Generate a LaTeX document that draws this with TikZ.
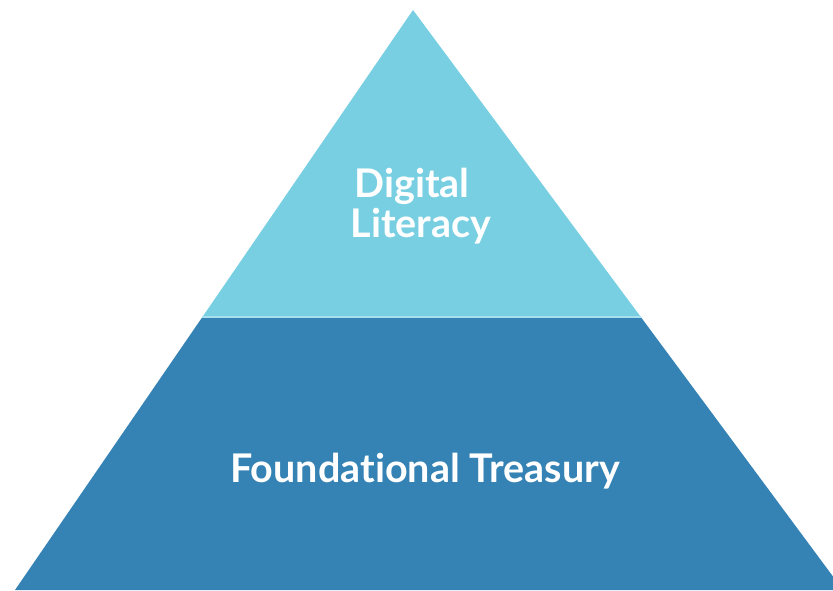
\documentclass[tikz,border=0pt]{standalone}
\usepackage{fontspec}
\setmainfont[Ligatures=NoCommon]{Lato}
\definecolor{toplight}{HTML}{78CFE2}
\definecolor{basedark}{HTML}{3582B5}
\definecolor{sepline}{HTML}{A6E0EE}
\tikzset{
  layertext/.style={text=white, font=\bfseries\fontsize{39.5}{42}\selectfont, inner sep=0pt, align=center}
}
\begin{document}
\begin{tikzpicture}[x=1pt,y=-1pt]
\useasboundingbox (0,0) rectangle (833,590);
\clip (0,0) rectangle (833,590);
\coordinate (apex) at (413,10);
\coordinate (ml) at (202.4,317);
\coordinate (mr) at (640.8,317);
\coordinate (bl) at (15,590);
\coordinate (br) at (843,590);
\fill[basedark] (ml) -- (mr) -- (br) -- (bl) -- cycle;
\fill[toplight] (apex) -- (mr) -- (ml) -- cycle;
\draw[sepline, line width=2pt] (ml) -- (mr);
\node[layertext, anchor=base] (dl1) at (412,197) {Digital};
\node[layertext, anchor=base] (dl2) at (421,237) {Literacy};
\node[layertext, anchor=base] (ft) at (425,482) {Foundational Treasury};
\end{tikzpicture}
\end{document}
